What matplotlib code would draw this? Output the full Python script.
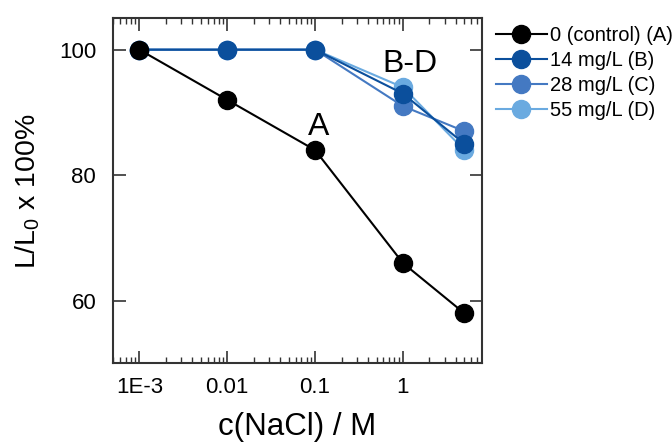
import matplotlib
matplotlib.use("Agg")
import matplotlib.pyplot as plt

plt.rcParams['font.family'] = ['Liberation Sans', 'DejaVu Sans']
plt.rcParams['mathtext.default'] = 'regular'

# data
nacl = [1e-3, 0.01, 0.1, 1, 5]
ctrl_A = [100, 92, 84, 66, 58]
mg14_B = [100, 100, 100, 93, 85]
mg28_C = [100, 100, 100, 91, 87]
mg55_D = [100, 100, 100, 94, 84]

labels = ['0 (control) (A)', '14 mg/L (B)', '28 mg/L (C)', '55 mg/L (D)']
colors = ['black', '#0b4f9c', '#4479c2', '#6aaae0']

fig = plt.figure(figsize=(6.72, 4.46), dpi=100)
ax = fig.add_axes([0.168, 0.185, 0.549, 0.774])

series = [ctrl_A, mg14_B, mg28_C, mg55_D]
zord = [10, 8, 7, 6]
for s, c, lab, z in zip(series, colors, labels, zord):
    ax.plot(nacl, s, '-o', color=c, lw=1.5, ms=13, label=lab, zorder=z)

ax.set_xscale('log')
ax.set_xlim(5e-4, 7.9)
ax.set_ylim(50, 105)
ax.set_yticks([60, 80, 100])
ax.set_xticks([1e-3, 0.01, 0.1, 1])
ax.set_xticklabels(['1E-3', '0.01', '0.1', '1'])

ax.tick_params(which='both', direction='in', top=True, right=True, labelsize=16, colors='#333333', labelcolor='black')
ax.tick_params(which='major', length=9, width=1.2, pad=10)
ax.tick_params(which='minor', length=4, width=1.0)
ax.tick_params(axis='y', which='major', pad=12)
ax.tick_params(axis='y', which='minor', left=False, right=False)
for sp in ax.spines.values():
    sp.set_color('#333333')
    sp.set_linewidth(1.5)

ax.set_xlabel('c(NaCl) / M', fontsize=22.5, labelpad=10)
ax.set_ylabel('L/L$_0$ x 100%', fontsize=20.5, labelpad=12)

ax.text(0.11, 86.4, 'A', fontsize=23, ha='center', va='baseline')
ax.text(1.2, 96.4, 'B-D', fontsize=23, ha='center', va='baseline')

ax.legend(loc='upper left', bbox_to_anchor=(0.99, 1.03), frameon=False,
          fontsize=14.5, handlelength=2.5, handletextpad=0.15,
          labelspacing=0.3, borderaxespad=0.5)

plt.savefig('out.png', dpi=100)
